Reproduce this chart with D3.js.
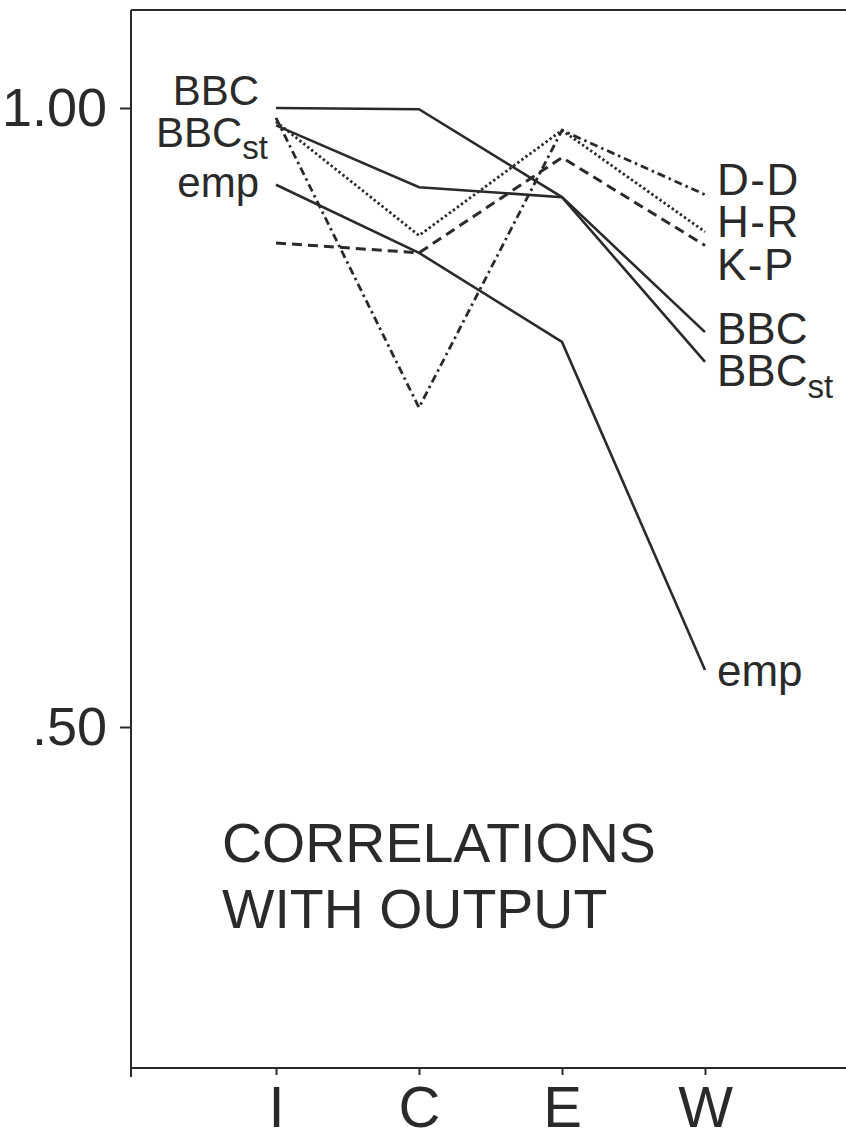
<!DOCTYPE html>
<html>
<head>
<meta charset="utf-8">
<script src="https://cdn.jsdelivr.net/npm/d3@7"></script>
<style>
  body { margin: 0; background: #fff; }
  text { font-family: "Liberation Sans", Arial, sans-serif; fill: #2a2a2a; }
</style>
</head>
<body>
<svg id="chart" width="846" height="1135"></svg>
<script>
// stages on the x axis
const stages = ["I", "C", "E", "W"];

// correlations with output
const bbc   = [1.000, 0.999, 0.928, 0.819];
const bbcSt = [0.986, 0.936, 0.928, 0.795];
const emp   = [0.938, 0.883, 0.811, 0.546];
const dd    = [0.992, 0.758, 0.982, 0.930];
const hr    = [0.989, 0.897, 0.982, 0.900];
const kp    = [0.891, 0.883, 0.960, 0.889];

const yTicks = [1.0, 0.5];
const yTickLabels = ["1.00", ".50"];

const series = [
  { name: "BBC",   sub: "",   values: bbc,   dash: null,        width: 2.6 },
  { name: "BBC",   sub: "st", values: bbcSt, dash: null,        width: 2.6 },
  { name: "emp",   sub: "",   values: emp,   dash: null,        width: 2.6 },
  { name: "D-D",   sub: "",   values: dd,    dash: "8,4,2.5,4", width: 2.8 },
  { name: "H-R",   sub: "",   values: hr,    dash: "2.4,2.6",   width: 2.8 },
  { name: "K-P",   sub: "",   values: kp,    dash: "10,6",      width: 3 }
];

const svg = d3.select("#chart");

// frame
const frameLeft = 131, frameTop = 10, frameBottom = 1068, frameRight = 846;

const x = d3.scalePoint().domain(stages).range([276, 705]);
const y = d3.scaleLinear().domain([0.5, 1.0]).range([727, 108]);

const ink = "#2a2a2a";

// frame lines
svg.append("line")
  .attr("x1", frameLeft).attr("x2", frameRight).attr("y1", frameTop).attr("y2", frameTop)
  .attr("stroke", ink).attr("stroke-width", 2);
svg.append("line")
  .attr("x1", frameLeft).attr("x2", frameLeft).attr("y1", frameTop).attr("y2", frameBottom + 9)
  .attr("stroke", ink).attr("stroke-width", 2);
svg.append("line")
  .attr("x1", frameLeft).attr("x2", frameRight).attr("y1", frameBottom).attr("y2", frameBottom)
  .attr("stroke", ink).attr("stroke-width", 2);

// y axis
const yAxis = svg.append("g")
  .attr("transform", `translate(${frameLeft},0)`)
  .call(d3.axisLeft(y)
    .tickValues(yTicks)
    .tickFormat((d, i) => yTickLabels[i])
    .tickSize(11)
    .tickPadding(13));
yAxis.select(".domain").remove();
yAxis.selectAll("line").attr("stroke", ink).attr("stroke-width", 2);
yAxis.selectAll("text")
  .attr("font-size", 54)
  .attr("font-family", "Liberation Sans, Arial, sans-serif")
  .attr("fill", ink);

// x axis
const xAxis = svg.append("g")
  .attr("transform", `translate(0,${frameBottom})`)
  .call(d3.axisBottom(x).tickSize(7).tickPadding(11));
xAxis.select(".domain").remove();
xAxis.selectAll("line").attr("stroke", ink).attr("stroke-width", 2);
xAxis.selectAll("text")
  .attr("font-size", 58)
  .attr("font-family", "Liberation Sans, Arial, sans-serif")
  .attr("fill", ink);

// lines
const line = d3.line()
  .x((d, i) => x(stages[i]))
  .y(d => y(d));

svg.selectAll("path.series")
  .data(series)
  .enter()
  .append("path")
  .attr("class", "series")
  .attr("d", d => line(d.values))
  .attr("fill", "none")
  .attr("stroke", ink)
  .attr("stroke-width", d => d.width)
  .attr("stroke-dasharray", d => d.dash)
  .attr("stroke-linejoin", "miter");

// labels: left for the empirical / BBC group, right for all
const leftLabels = [
  { s: series[0], dy: -3 },
  { s: series[1], dy: 22 },
  { s: series[2], dy: 12 }
];
const rightLabels = [
  { s: series[3], dy: 0, size: 44 },
  { s: series[4], dy: 5, size: 44 },
  { s: series[5], dy: 35, size: 44 },
  { s: series[0], dy: 12, size: 44 },
  { s: series[1], dy: 24, size: 44 },
  { s: series[2], dy: 16, size: 44 }
];

const addLabel = (g, d) => {
  g.append("tspan").text(d.s.name);
  if (d.s.sub) {
    g.append("tspan")
      .attr("font-size", 33)
      .attr("dy", 12)
      .text(d.s.sub);
  }
};

leftLabels.forEach(d => {
  const t = svg.append("text")
    .attr("x", x("I") - (d.s.sub ? 8 : 17))
    .attr("y", y(d.s.values[0]) + d.dy)
    .attr("text-anchor", "end")
    .attr("font-size", 42);
  addLabel(t, d);
});

rightLabels.forEach(d => {
  const t = svg.append("text")
    .attr("x", x("W") + 12)
    .attr("y", y(d.s.values[3]) + d.dy)
    .attr("font-size", d.size)
    .attr("letter-spacing", d.s.name.includes("-") ? 1.5 : 0);
  addLabel(t, d);
});

// caption
const caption = svg.append("text")
  .attr("x", 222)
  .attr("y", 862)
  .attr("font-size", 55.5);
caption.append("tspan").text("CORRELATIONS");
caption.append("tspan").attr("x", 222).attr("dy", 66).text("WITH OUTPUT");
</script>
</body>
</html>
